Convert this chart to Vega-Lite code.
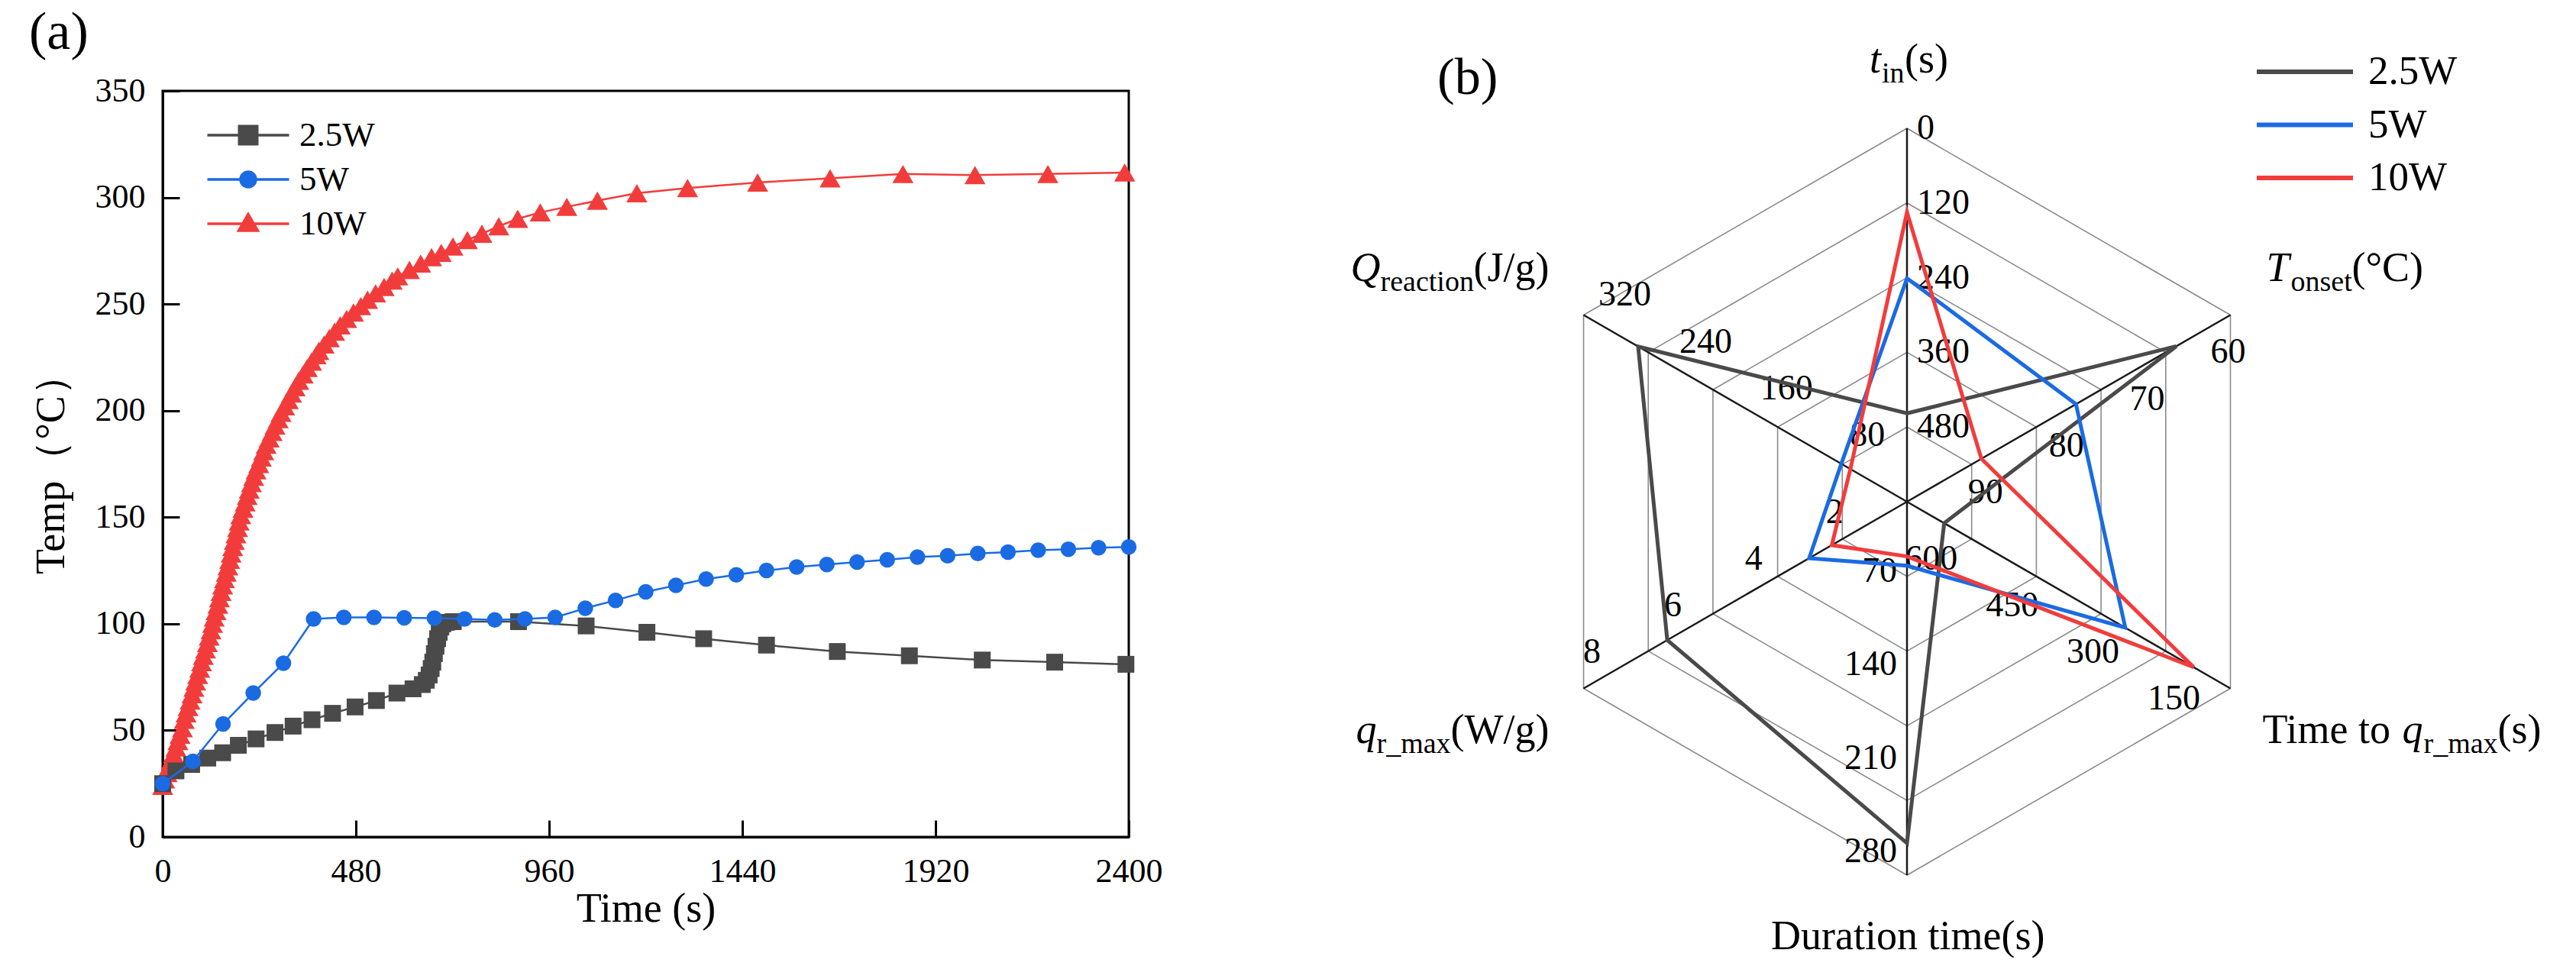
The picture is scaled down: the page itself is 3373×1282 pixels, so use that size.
{
  "$schema": "https://vega.github.io/schema/vega-lite/v6.json",
  "background": "white",
  "padding": {"left": 36, "top": 6, "right": 0, "bottom": 0},
  "spacing": 419,
  "bounds": "flush",
  "config": {
    "font": "Liberation Serif",
    "view": {"stroke": null},
    "text": {"font": "Liberation Serif"},
    "axis": {"domainColor": "black", "domainWidth": 3, "tickColor": "black", "tickWidth": 3, "tickSize": -22, "labelPadding": 45, "labelFlush": false, "labelOverlap": false, "labelFont": "Liberation Serif", "labelFontSize": 44, "labelColor": "black", "titleFont": "Liberation Serif", "titleFontSize": 54, "titleFontWeight": "normal", "titleColor": "black", "grid": false, "format": "d"}
  },
  "resolve": {"scale": {"x": "independent", "y": "independent", "color": "independent"}, "legend": {"color": "independent"}},
  "datasets": {
    "temp": [
      {"series":"10W","t":0,"T":24},{"series":"10W","t":5,"T":27},{"series":"10W","t":11,"T":30},{"series":"10W","t":16,"T":33},{"series":"10W","t":22,"T":36},{"series":"10W","t":27,"T":39},{"series":"10W","t":33,"T":42},{"series":"10W","t":38,"T":45},{"series":"10W","t":43,"T":48},{"series":"10W","t":49,"T":51},{"series":"10W","t":53.5,"T":55},{"series":"10W","t":58,"T":58},{"series":"10W","t":63,"T":61},{"series":"10W","t":68,"T":64},{"series":"10W","t":73,"T":67},{"series":"10W","t":77.5,"T":70},{"series":"10W","t":82,"T":73},{"series":"10W","t":87,"T":76},{"series":"10W","t":92,"T":79},{"series":"10W","t":96.5,"T":82},{"series":"10W","t":101,"T":85},{"series":"10W","t":106.5,"T":88},{"series":"10W","t":111,"T":91},{"series":"10W","t":115.5,"T":94},{"series":"10W","t":120,"T":97},{"series":"10W","t":124,"T":100},{"series":"10W","t":128,"T":103},{"series":"10W","t":132.5,"T":106},{"series":"10W","t":137,"T":109},{"series":"10W","t":141,"T":112},{"series":"10W","t":145,"T":115},{"series":"10W","t":149,"T":118},{"series":"10W","t":153.5,"T":121},{"series":"10W","t":158,"T":124},{"series":"10W","t":162,"T":127},{"series":"10W","t":166.5,"T":130},{"series":"10W","t":170,"T":133},{"series":"10W","t":174,"T":136},{"series":"10W","t":178,"T":139},{"series":"10W","t":182,"T":142},{"series":"10W","t":186,"T":145},{"series":"10W","t":190,"T":148},{"series":"10W","t":194,"T":151},{"series":"10W","t":199.5,"T":154},{"series":"10W","t":205,"T":157},{"series":"10W","t":210,"T":160},{"series":"10W","t":215,"T":163},{"series":"10W","t":220.5,"T":166},{"series":"10W","t":226,"T":169},{"series":"10W","t":232,"T":172},{"series":"10W","t":238.5,"T":175},{"series":"10W","t":245,"T":178},{"series":"10W","t":251,"T":181},{"series":"10W","t":257,"T":184},{"series":"10W","t":264.5,"T":187},{"series":"10W","t":272,"T":190},{"series":"10W","t":279,"T":193},{"series":"10W","t":287,"T":196},{"series":"10W","t":294,"T":199},{"series":"10W","t":303,"T":202},{"series":"10W","t":312,"T":205},{"series":"10W","t":320,"T":208},{"series":"10W","t":329,"T":211},{"series":"10W","t":338,"T":214},{"series":"10W","t":349,"T":217},{"series":"10W","t":359,"T":220},{"series":"10W","t":370,"T":223},{"series":"10W","t":381,"T":226},{"series":"10W","t":388,"T":228},{"series":"10W","t":401,"T":231},{"series":"10W","t":414,"T":234},{"series":"10W","t":427,"T":237},{"series":"10W","t":441,"T":240},{"series":"10W","t":457,"T":243},{"series":"10W","t":474,"T":246},{"series":"10W","t":492,"T":249},{"series":"10W","t":509,"T":252},{"series":"10W","t":529,"T":255},{"series":"10W","t":550,"T":258},{"series":"10W","t":570,"T":261},{"series":"10W","t":584,"T":263},{"series":"10W","t":613,"T":266},{"series":"10W","t":641,"T":269},{"series":"10W","t":668,"T":272},{"series":"10W","t":692,"T":274},{"series":"10W","t":721,"T":277},{"series":"10W","t":757,"T":280},{"series":"10W","t":793,"T":283},{"series":"10W","t":835,"T":286.5},{"series":"10W","t":882,"T":290},{"series":"10W","t":938,"T":293},{"series":"10W","t":1004,"T":295.6},{"series":"10W","t":1080,"T":298.5},{"series":"10W","t":1178,"T":302},{"series":"10W","t":1304,"T":304.4},{"series":"10W","t":1478,"T":307},{"series":"10W","t":1658,"T":309},{"series":"10W","t":1839,"T":311},{"series":"10W","t":2018,"T":310.5},{"series":"10W","t":2199,"T":311},{"series":"10W","t":2390,"T":311.7},
      {"series":"2.5W","t":0,"T":25},{"series":"2.5W","t":33,"T":31},{"series":"2.5W","t":72,"T":34},{"series":"2.5W","t":112,"T":37},{"series":"2.5W","t":149,"T":39.5},{"series":"2.5W","t":188,"T":43},{"series":"2.5W","t":232,"T":46},{"series":"2.5W","t":279,"T":49},{"series":"2.5W","t":324,"T":52},{"series":"2.5W","t":371,"T":55},{"series":"2.5W","t":422,"T":58},{"series":"2.5W","t":478,"T":61},{"series":"2.5W","t":531,"T":64},{"series":"2.5W","t":582,"T":67.5},{"series":"2.5W","t":622,"T":69.5},{"series":"2.5W","t":645,"T":71.5},{"series":"2.5W","t":655,"T":73.5},{"series":"2.5W","t":662,"T":76},{"series":"2.5W","t":667,"T":79},{"series":"2.5W","t":671,"T":82},{"series":"2.5W","t":675,"T":86},{"series":"2.5W","t":679,"T":89.5},{"series":"2.5W","t":683,"T":93},{"series":"2.5W","t":687,"T":96},{"series":"2.5W","t":691,"T":98.5},{"series":"2.5W","t":696,"T":100},{"series":"2.5W","t":705,"T":100.7},{"series":"2.5W","t":722,"T":101},{"series":"2.5W","t":884,"T":101},{"series":"2.5W","t":1052,"T":99},{"series":"2.5W","t":1203,"T":96},{"series":"2.5W","t":1344,"T":93},{"series":"2.5W","t":1500,"T":90},{"series":"2.5W","t":1676,"T":87},{"series":"2.5W","t":1855,"T":85},{"series":"2.5W","t":2036,"T":83},{"series":"2.5W","t":2216,"T":82},{"series":"2.5W","t":2393,"T":81},
      {"series":"5W","t":0,"T":25},{"series":"5W","t":75,"T":35.5},{"series":"5W","t":150,"T":53},{"series":"5W","t":225,"T":67.5},{"series":"5W","t":300,"T":81.5},{"series":"5W","t":375,"T":102.3},{"series":"5W","t":450,"T":103},{"series":"5W","t":525,"T":103},{"series":"5W","t":600,"T":102.8},{"series":"5W","t":675,"T":102.6},{"series":"5W","t":750,"T":102.3},{"series":"5W","t":825,"T":101.8},{"series":"5W","t":900,"T":102.3},{"series":"5W","t":975,"T":103},{"series":"5W","t":1050,"T":107.3},{"series":"5W","t":1125,"T":111},{"series":"5W","t":1200,"T":115},{"series":"5W","t":1275,"T":118},{"series":"5W","t":1350,"T":121},{"series":"5W","t":1425,"T":123},{"series":"5W","t":1500,"T":125},{"series":"5W","t":1575,"T":126.6},{"series":"5W","t":1650,"T":127.8},{"series":"5W","t":1725,"T":129},{"series":"5W","t":1800,"T":130},{"series":"5W","t":1875,"T":131.3},{"series":"5W","t":1950,"T":131.9},{"series":"5W","t":2025,"T":133},{"series":"5W","t":2100,"T":133.6},{"series":"5W","t":2175,"T":134.5},{"series":"5W","t":2250,"T":135},{"series":"5W","t":2325,"T":135.7},{"series":"5W","t":2400,"T":136}
    ],
    "radar": [
      {"series":"2.5W","axis":"tin","value":458},{"series":"2.5W","axis":"Tonset","value":66.7},{"series":"2.5W","axis":"tq","value":681},{"series":"2.5W","axis":"dur","value":256},{"series":"2.5W","axis":"qr","value":5.93},{"series":"2.5W","axis":"Q","value":266},
      {"series":"5W","axis":"tin","value":241},{"series":"5W","axis":"Tonset","value":79.1},{"series":"5W","axis":"tq","value":345},{"series":"5W","axis":"dur","value":48},{"series":"5W","axis":"qr","value":2.42},{"series":"5W","axis":"Q","value":65},
      {"series":"10W","axis":"tin","value":135},{"series":"10W","axis":"Tonset","value":90.8},{"series":"10W","axis":"tq","value":218},{"series":"10W","axis":"dur","value":41},{"series":"10W","axis":"qr","value":1.86},{"series":"10W","axis":"Q","value":56}
    ],
    "rticks": [
      {"axis":"tin","value":0},{"axis":"tin","value":120},{"axis":"tin","value":240},{"axis":"tin","value":360},{"axis":"tin","value":480},
      {"axis":"Tonset","value":60},{"axis":"Tonset","value":70},{"axis":"Tonset","value":80},{"axis":"Tonset","value":90},
      {"axis":"tq","value":150},{"axis":"tq","value":300},{"axis":"tq","value":450},{"axis":"tq","value":600},
      {"axis":"dur","value":70},{"axis":"dur","value":140},{"axis":"dur","value":210},{"axis":"dur","value":280},
      {"axis":"qr","value":2},{"axis":"qr","value":4},{"axis":"qr","value":6},{"axis":"qr","value":8},
      {"axis":"Q","value":80},{"axis":"Q","value":160},{"axis":"Q","value":240},{"axis":"Q","value":320}
    ],
    "rings": [
      {"ring":1,"axis":"tin"},{"ring":1,"axis":"Tonset"},{"ring":1,"axis":"tq"},{"ring":1,"axis":"dur"},{"ring":1,"axis":"qr"},{"ring":1,"axis":"Q"},
      {"ring":2,"axis":"tin"},{"ring":2,"axis":"Tonset"},{"ring":2,"axis":"tq"},{"ring":2,"axis":"dur"},{"ring":2,"axis":"qr"},{"ring":2,"axis":"Q"},
      {"ring":3,"axis":"tin"},{"ring":3,"axis":"Tonset"},{"ring":3,"axis":"tq"},{"ring":3,"axis":"dur"},{"ring":3,"axis":"qr"},{"ring":3,"axis":"Q"},
      {"ring":4,"axis":"tin"},{"ring":4,"axis":"Tonset"},{"ring":4,"axis":"tq"},{"ring":4,"axis":"dur"},{"ring":4,"axis":"qr"},{"ring":4,"axis":"Q"},
      {"ring":5,"axis":"tin"},{"ring":5,"axis":"Tonset"},{"ring":5,"axis":"tq"},{"ring":5,"axis":"dur"},{"ring":5,"axis":"qr"},{"ring":5,"axis":"Q"}
    ],
    "spokes": [{"axis":"tin"},{"axis":"Tonset"},{"axis":"tq"},{"axis":"dur"},{"axis":"qr"},{"axis":"Q"}],
    "rtitles": [
      {"axis":"tin","part":"main","text":"t"},{"axis":"tin","part":"sub","text":"in"},{"axis":"tin","part":"unit","text":"(s)"},
      {"axis":"Tonset","part":"main","text":"T"},{"axis":"Tonset","part":"sub","text":"onset"},{"axis":"Tonset","part":"unit","text":"(°C)"},
      {"axis":"tq","part":"pre","text":"Time to "},{"axis":"tq","part":"main","text":"q"},{"axis":"tq","part":"sub","text":"r_max"},{"axis":"tq","part":"unit","text":"(s)"},
      {"axis":"dur","part":"plain","text":"Duration time(s)"},
      {"axis":"qr","part":"main","text":"q"},{"axis":"qr","part":"sub","text":"r_max"},{"axis":"qr","part":"unit","text":"(W/g)"},
      {"axis":"Q","part":"main","text":"Q"},{"axis":"Q","part":"sub","text":"reaction"},{"axis":"Q","part":"unit","text":"(J/g)"}
    ]
  },
  "hconcat": [
    {
      "width": 1265,
      "height": 977,
      "view": {"stroke": "black", "strokeWidth": 3},
      "title": {"text": "(a)", "anchor": "start", "frame": "group", "dx": -175, "dy": 64, "offset": 27, "baseline": "alphabetic", "fontSize": 70, "fontWeight": "normal", "font": "Liberation Serif", "color": "black"},
      "data": {"name": "temp"},
      "encoding": {
        "x": {"field": "t", "type": "quantitative", "scale": {"domain": [0, 2400], "nice": false, "zero": false}, "axis": {"values": [0, 480, 960, 1440, 1920, 2400], "title": "Time (s)", "titlePadding": 0}},
        "y": {"field": "T", "type": "quantitative", "scale": {"domain": [0, 350], "nice": false, "zero": false}, "axis": {"values": [0, 50, 100, 150, 200, 250, 300, 350], "title": "Temp（°C）", "titlePadding": 30}},
        "color": {"field": "series", "type": "nominal", "scale": {"domain": ["2.5W", "5W", "10W"], "range": ["#4a4a4a", "#1a6be3", "#f23c3c"]},
          "legend": {"orient": "none", "legendX": 89.5, "legendY": 35.5, "title": null, "symbolSize": 1600, "symbolStrokeWidth": 3, "labelFontSize": 45, "labelFont": "Liberation Serif", "labelColor": "black", "labelOffset": 44.5, "rowPadding": 12, "padding": 0, "labelLimit": 0,
            "encode": {"symbols": {"update": {
              "shape": {"signal": "datum.value === '2.5W' ? 'M-2.675,0H2.675M-0.5875,-0.5875H0.5875V0.5875H-0.5875Z' : datum.value === '5W' ? 'M-2.675,0H2.675M-0.5,0A0.5,0.5,0,1,0,0.5,0A0.5,0.5,0,1,0,-0.5,0Z' : 'M-2.675,0H2.675M0,-0.62L0.62,0.45L-0.62,0.45Z'"},
              "fill": {"signal": "datum.value === '2.5W' ? '#4a4a4a' : datum.value === '5W' ? '#1a6be3' : '#f23c3c'"},
              "stroke": {"signal": "datum.value === '2.5W' ? '#6a6a6a' : datum.value === '5W' ? '#3a80ea' : '#f56060'"},
              "strokeWidth": {"value": 3.5},
              "opacity": {"value": 1},
              "fillOpacity": {"value": 1},
              "strokeOpacity": {"value": 1}
            }}}}}
      },
      "layer": [
        {"transform": [{"filter": "datum.series === '10W'"}], "mark": {"type": "line", "strokeWidth": 2.5}},
        {"transform": [{"filter": "datum.series === '10W'"}], "mark": {"type": "point", "shape": "triangle-up", "filled": true, "size": 760, "opacity": 1}},
        {"transform": [{"filter": "datum.series === '2.5W'"}], "mark": {"type": "line", "strokeWidth": 2.5}},
        {"transform": [{"filter": "datum.series === '2.5W'"}], "mark": {"type": "point", "shape": "square", "filled": true, "size": 484, "opacity": 1}},
        {"transform": [{"filter": "datum.series === '5W'"}], "mark": {"type": "line", "strokeWidth": 2.5}},
        {"transform": [{"filter": "datum.series === '5W'"}], "mark": {"type": "point", "shape": "circle", "filled": true, "size": 420, "opacity": 1}}
      ]
    },
    {
      "width": 1200,
      "height": 977,
      "view": {"stroke": null},
      "title": {"text": "(b)", "anchor": "start", "frame": "group", "dx": -15, "dy": 139, "offset": 0, "baseline": "alphabetic", "fontSize": 68, "fontWeight": "normal", "font": "Liberation Serif", "color": "black"},
      "encoding": {
        "x": {"field": "px", "type": "quantitative", "scale": {"domain": [-1.227, 1.227], "nice": false, "zero": false}, "axis": null},
        "y": {"field": "py", "type": "quantitative", "scale": {"domain": [-0.8978, 1.1002], "nice": false, "zero": false}, "axis": null}
      },
      "layer": [
        {
          "data": {"name": "rings"},
          "transform": [
            {"calculate": "indexof(['tin','Tonset','tq','dur','qr','Q'], datum.axis)", "as": "k"},
            {"calculate": "PI/2 - datum.k*PI/3", "as": "ang"},
            {"calculate": "datum.ring/5", "as": "r"},
            {"calculate": "datum.r*cos(datum.ang)", "as": "px"},
            {"calculate": "datum.r*sin(datum.ang)", "as": "py"}
          ],
          "mark": {"type": "line", "interpolate": "linear-closed", "stroke": "#8a8a8a", "strokeWidth": 1.6},
          "encoding": {"detail": {"field": "ring", "type": "nominal"}, "order": {"field": "k", "type": "quantitative"}}
        },
        {
          "data": {"name": "spokes"},
          "transform": [
            {"calculate": "indexof(['tin','Tonset','tq','dur','qr','Q'], datum.axis)", "as": "k"},
            {"calculate": "PI/2 - datum.k*PI/3", "as": "ang"},
            {"calculate": "cos(datum.ang)", "as": "px"},
            {"calculate": "sin(datum.ang)", "as": "py"}
          ],
          "mark": {"type": "rule", "color": "#1a1a1a", "strokeWidth": 2.5},
          "encoding": {"x": {"datum": 0}, "y": {"datum": 0}, "x2": {"field": "px"}, "y2": {"field": "py"}}
        },
        {
          "data": {"name": "rticks"},
          "transform": [
            {"calculate": "indexof(['tin','Tonset','tq','dur','qr','Q'], datum.axis)", "as": "k"},
            {"calculate": "PI/2 - datum.k*PI/3", "as": "ang"},
            {"calculate": "(datum.value - [600,100,750,0,0,0][datum.k]) / ([0,60,150,280,8,320][datum.k] - [600,100,750,0,0,0][datum.k])", "as": "r"},
            {"calculate": "datum.r*cos(datum.ang)", "as": "px"},
            {"calculate": "datum.r*sin(datum.ang)", "as": "py"}
          ],
          "encoding": {"text": {"field": "value", "type": "quantitative"}},
          "layer": [
            {"transform": [{"filter": "datum.axis === 'tin'"}], "mark": {"type": "text", "font": "Liberation Serif", "align": "left", "baseline": "middle", "dx": 13, "dy": 0, "fontSize": 46, "color": "black"}},
            {"transform": [{"filter": "datum.axis === 'Tonset'"}], "mark": {"type": "text", "font": "Liberation Serif", "align": "center", "baseline": "middle", "dx": -3, "dy": 49, "fontSize": 46, "color": "black"}},
            {"transform": [{"filter": "datum.axis === 'tq'"}], "mark": {"type": "text", "font": "Liberation Serif", "align": "center", "baseline": "middle", "dx": -74, "dy": 14, "fontSize": 46, "color": "black"}},
            {"transform": [{"filter": "datum.axis === 'dur'"}], "mark": {"type": "text", "font": "Liberation Serif", "align": "right", "baseline": "middle", "dx": -13, "dy": -31, "fontSize": 46, "color": "black"}},
            {"transform": [{"filter": "datum.axis === 'qr'"}], "mark": {"type": "text", "font": "Liberation Serif", "align": "center", "baseline": "middle", "dx": 11, "dy": -47, "fontSize": 46, "color": "black"}},
            {"transform": [{"filter": "datum.axis === 'Q'"}], "mark": {"type": "text", "font": "Liberation Serif", "align": "center", "baseline": "middle", "dx": 54, "dy": -26, "fontSize": 46, "color": "black"}}
          ]
        },
        {
          "data": {"name": "radar"},
          "transform": [
            {"calculate": "indexof(['tin','Tonset','tq','dur','qr','Q'], datum.axis)", "as": "k"},
            {"calculate": "PI/2 - datum.k*PI/3", "as": "ang"},
            {"calculate": "(datum.value - [600,100,750,0,0,0][datum.k]) / ([0,60,150,280,8,320][datum.k] - [600,100,750,0,0,0][datum.k])", "as": "r"},
            {"calculate": "datum.r*cos(datum.ang)", "as": "px"},
            {"calculate": "datum.r*sin(datum.ang)", "as": "py"}
          ],
          "mark": {"type": "line", "interpolate": "linear-closed", "strokeWidth": 5},
          "encoding": {
            "order": {"field": "k", "type": "quantitative"},
            "color": {"field": "series", "type": "nominal", "scale": {"domain": ["2.5W", "5W", "10W"], "range": ["#4a4a4a", "#1a6be3", "#f23c3c"]},
              "legend": {"orient": "none", "legendX": 1094.5, "legendY": -51.5, "title": null, "symbolType": "M-3,0H3", "symbolSize": 1764, "symbolStrokeWidth": 6, "labelFontSize": 53, "labelFont": "Liberation Serif", "labelColor": "black", "labelOffset": 56.5, "rowPadding": 15.5, "padding": 0, "labelLimit": 0,
                "encode": {"symbols": {"update": {
                  "stroke": {"signal": "datum.value === '2.5W' ? '#4a4a4a' : datum.value === '5W' ? '#1a6be3' : '#f23c3c'"},
                  "fill": {"value": "transparent"},
                  "strokeWidth": {"value": 6},
                  "opacity": {"value": 1}
                }}}}}
          }
        },
        {
          "data": {"name": "rtitles"},
          "transform": [
            {"calculate": "indexof(['tin','Tonset','tq','dur','qr','Q'], datum.axis)", "as": "k"},
            {"calculate": "PI/2 - datum.k*PI/3", "as": "ang"},
            {"calculate": "indexof(['tin_main','tin_sub','tin_unit','Tonset_main','Tonset_sub','Tonset_unit','tq_pre','tq_main','tq_sub','tq_unit','dur_plain','qr_main','qr_sub','qr_unit','Q_main','Q_sub','Q_unit'], datum.axis + '_' + datum.part)", "as": "j"},
            {"calculate": "[-49,-33,-3,47,79,159,42,225,253,350,-178,-298,-271,-174,-305,-266,-144][datum.j]", "as": "ox"},
            {"calculate": "[-73,-60,-73,-44,-31,-44,72,72,85,72,97,72,85,72,-44,-31,-44][datum.j]", "as": "oy"},
            {"calculate": "cos(datum.ang) + datum.ox/489", "as": "px"},
            {"calculate": "sin(datum.ang) - datum.oy/489", "as": "py"}
          ],
          "encoding": {"text": {"field": "text", "type": "nominal"}},
          "layer": [
            {"transform": [{"filter": "datum.part === 'main'"}], "mark": {"type": "text", "font": "Liberation Serif", "align": "left", "baseline": "alphabetic", "fontSize": 54, "fontStyle": "italic", "color": "black"}},
            {"transform": [{"filter": "datum.part === 'sub'"}], "mark": {"type": "text", "font": "Liberation Serif", "align": "left", "baseline": "alphabetic", "fontSize": 38, "color": "black"}},
            {"transform": [{"filter": {"field": "part", "oneOf": ["unit", "pre", "plain"]}}], "mark": {"type": "text", "font": "Liberation Serif", "align": "left", "baseline": "alphabetic", "fontSize": 54, "color": "black"}}
          ]
        }
      ]
    }
  ]
}
